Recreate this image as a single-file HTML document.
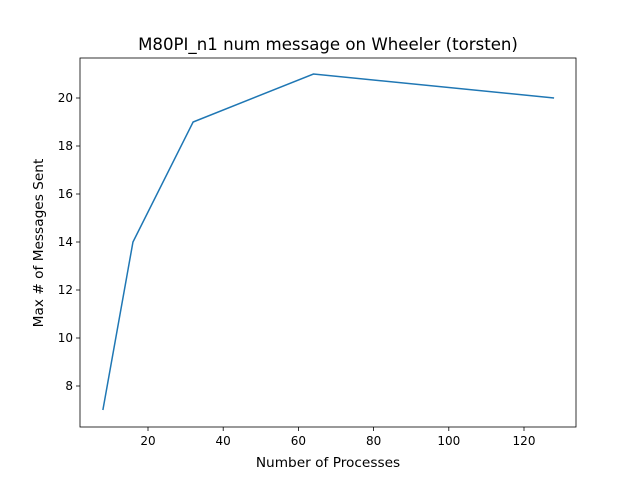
<!DOCTYPE html>
<html><head><meta charset="utf-8"><style>body{margin:0;background:#fff}svg{display:block;font-family:"DejaVu Sans","Liberation Sans",sans-serif}</style></head>
<body>
<svg id="chart" width="640" height="480">
<rect width="640" height="480" fill="#fff"/>
<text x="328" y="50" font-size="16.6" text-anchor="middle">M80PI_n1 num message on Wheeler (torsten)</text>
<g id="axes"></g>
<text x="328" y="467" font-size="13.7" text-anchor="middle">Number of Processes</text>
<text transform="translate(43,243) rotate(-90)" font-size="13.7" text-anchor="middle">Max # of Messages Sent</text>
</svg>
<script>
const xValues=[8,16,32,64,128];
const yValues=[7,14,19,21,20];
const xTicks=[20,40,60,80,100,120];
const yTicks=[8,10,12,14,16,18,20];
const L=80,R=576,T=58,B=427;
const sx=v=>148+(v-20)*3.76;
const sy=v=>386-(v-8)*24;
const NS="http://www.w3.org/2000/svg";
const g=document.getElementById('axes');
function mk(t,a){const e=document.createElementNS(NS,t);for(const k in a)e.setAttribute(k,a[k]);g.appendChild(e);return e;}
xTicks.forEach(v=>{
 const x=sx(v);
 const tk=mk('line',{x1:x,x2:x,y1:B,y2:B+4,stroke:'#000','stroke-width':0.8});
 
 
 const t=mk('text',{x:x,y:B+18,'font-size':12,'text-anchor':'middle'});t.textContent=v;
 
 
});
yTicks.forEach(v=>{
 const y=sy(v);
 const tk=mk('line',{x1:L-4,x2:L,y1:y,y2:y,stroke:'#000','stroke-width':0.8});
 
 
 const t=mk('text',{x:L-7,y:y+4,'font-size':12,'text-anchor':'end'});t.textContent=v;
 
 
});
const pts=xValues.map((v,i)=>sx(v)+','+sy(yValues[i])).join(' ');
const line=mk('polyline',{points:pts,fill:'none',stroke:'#1f77b4','stroke-width':1.5});


const fr=mk('rect',{x:L,y:T,width:R-L,height:B-T,fill:'none',stroke:'#000','stroke-width':0.8});


</script>
</body></html>
